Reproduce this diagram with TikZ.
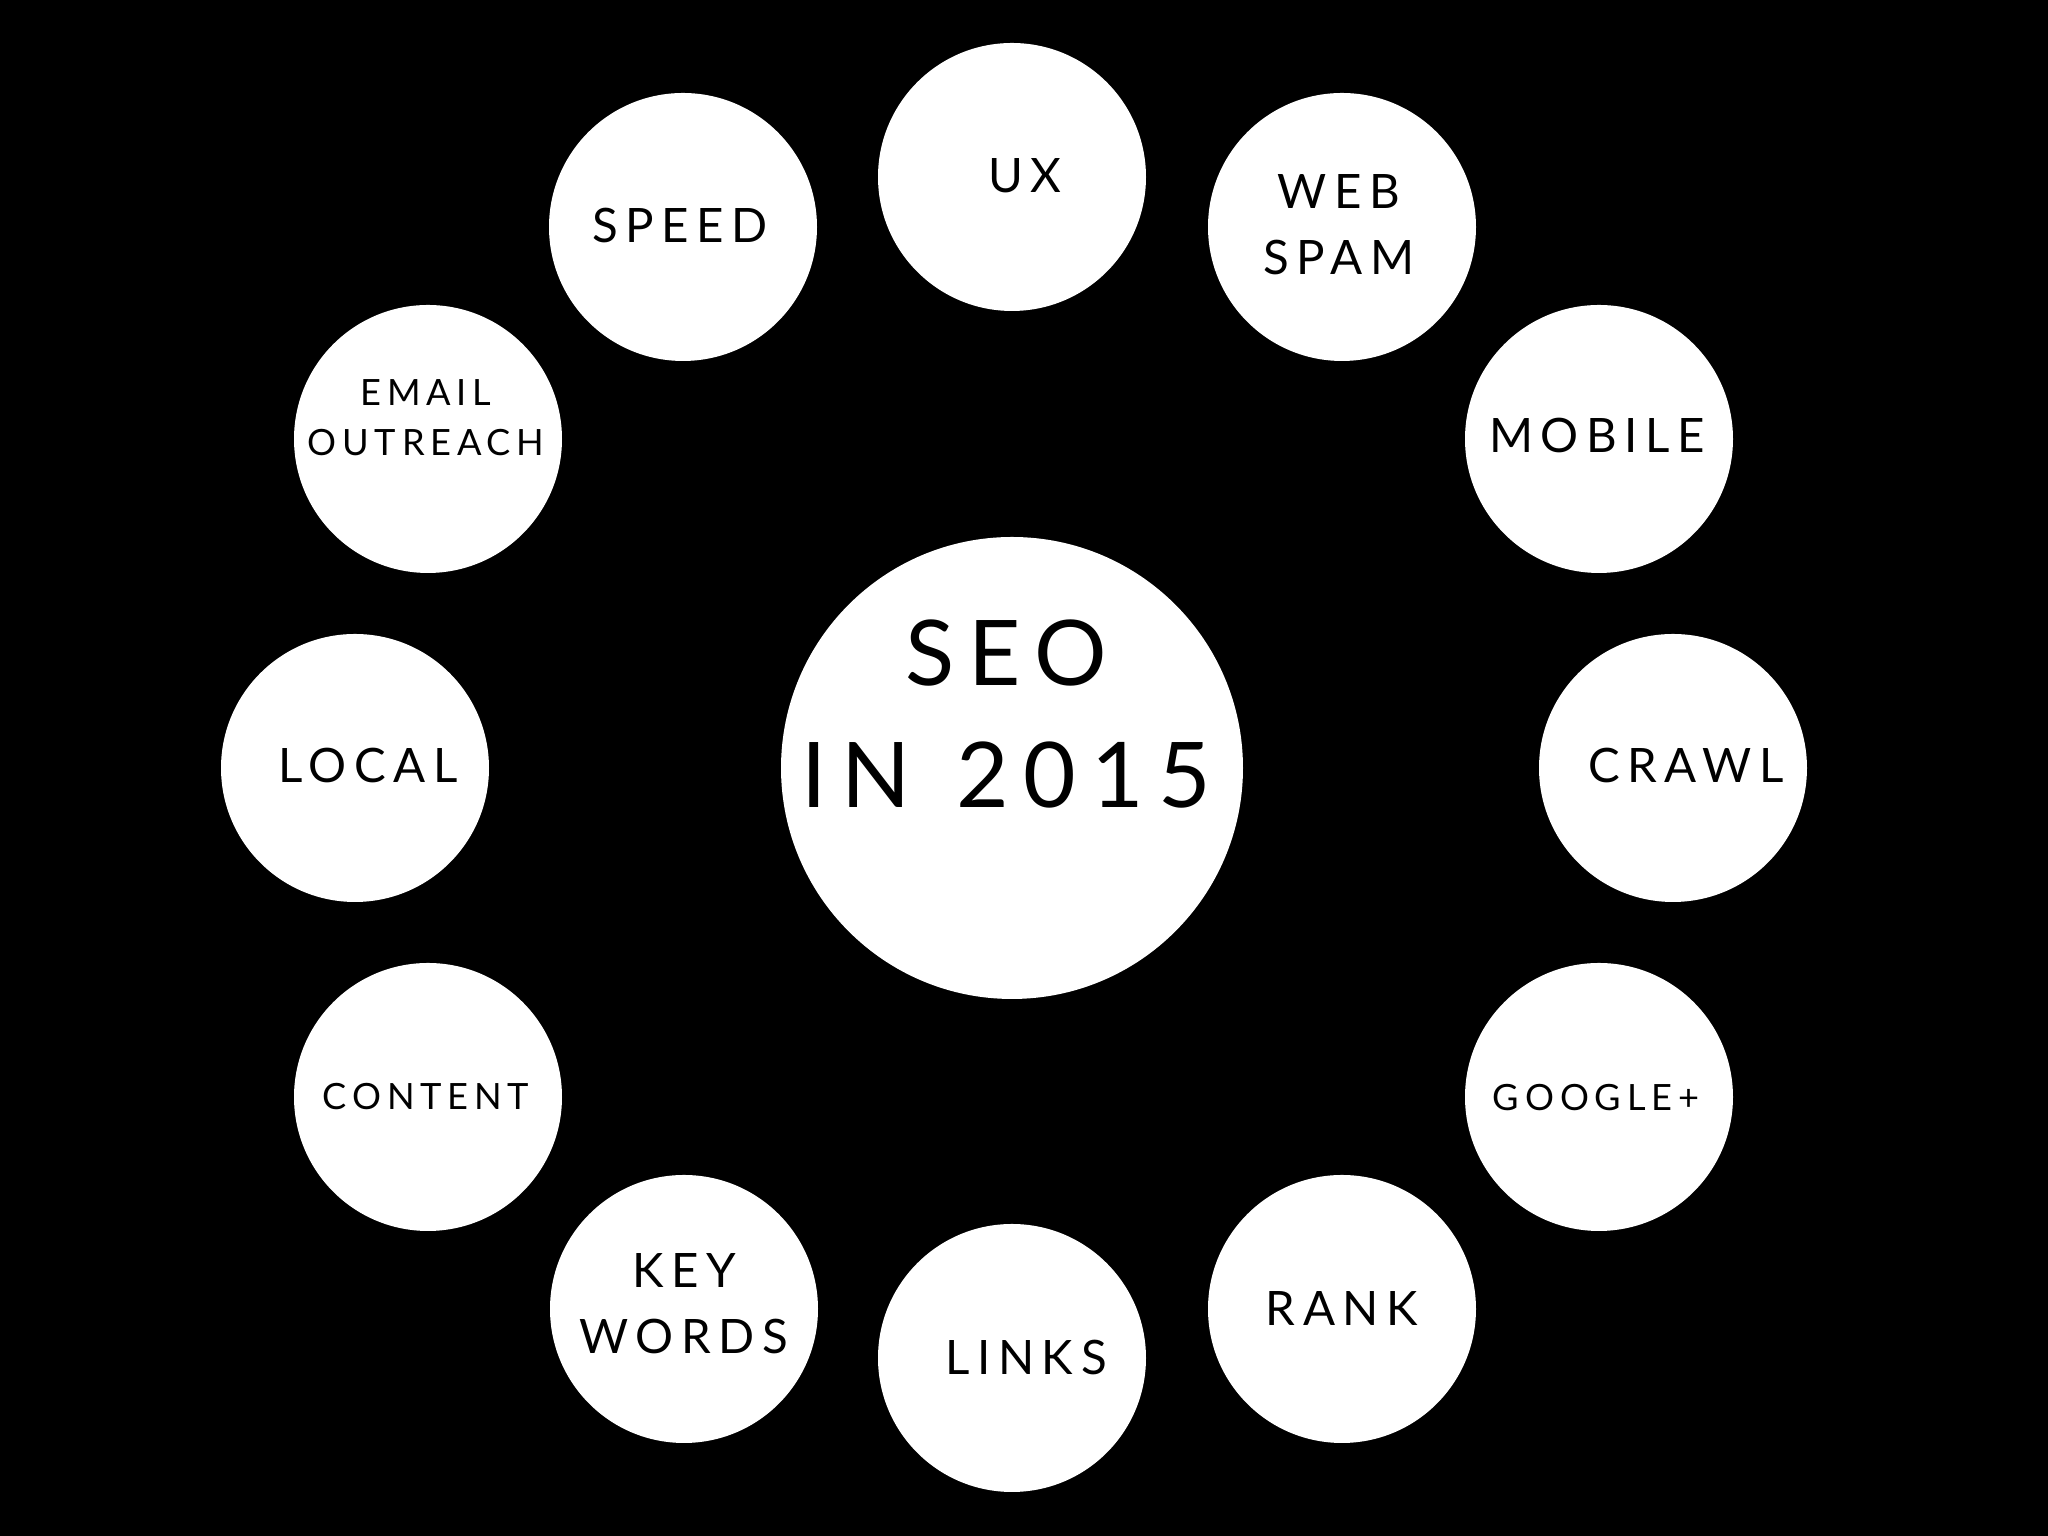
\documentclass[tikz,border=0pt]{standalone}
\usepackage{fontspec}
\usepackage{tikz}
\newfontfamily\widefont[LetterSpace=16]{Lato}

\begin{document}
\begin{tikzpicture}[
  bubble/.style={circle, fill=white, minimum size=2.68cm, inner sep=0pt},
  hub/.style={circle, fill=white, minimum size=4.62cm, inner sep=0pt},
  tag/.style={text=black, inner sep=0pt, align=center,
    font=\widefont\fontsize{13.5}{18.8}\selectfont},
  smalltag/.style={tag, font=\widefont\fontsize{10.3}{14.2}\selectfont},
  bigtag/.style={tag, font=\widefont\fontsize{25.8}{34.7}\selectfont}]
%background
\fill[black] (0,0) rectangle (20.48cm, 15.36cm);
\useasboundingbox (0,0) rectangle (20.48cm, 15.36cm);
%centre
\node[hub] (seo) at (10.12cm, 7.68cm) {};
\node[bigtag] (seotext) at (10.06cm, 8.22cm) {SEO\\IN\hspace{2.5pt} 2015};
%ring of topics
\foreach \name/\x/\y in {ux/10.12/13.59, webspam/13.42/13.09,
  mobile/15.99/10.97, crawl/16.73/7.68, google/15.99/4.39,
  rank/13.42/2.27, links/10.12/1.78, keywords/6.84/2.27,
  content/4.28/4.39, local/3.55/7.68, email/4.28/10.97,
  speed/6.83/13.09}
{
  \node[bubble] (\name) at (\x cm, \y cm) {};
}
%labels
\node[tag] (uxtext) at (10.25cm, 13.605cm) {UX};
\node[tag] (webspamtext) at (13.39cm, 13.11cm) {WEB\\SPAM};
\node[tag] (mobiletext) at (15.97cm, 11.00cm) {MOBILE};
\node[tag] (crawltext) at (16.86cm, 7.705cm) {CRAWL};
\node[smalltag] (googletext) at (15.96cm, 4.385cm) {GOOGLE+};
\node[tag] (ranktext) at (13.42cm, 2.275cm) {RANK};
\node[tag] (linkstext) at (10.26cm, 1.785cm) {LINKS};
\node[tag] (keywordstext) at (6.84cm, 2.32cm) {KEY\\WORDS};
\node[smalltag] (contenttext) at (4.26cm, 4.395cm) {CONTENT};
\node[tag] (localtext) at (3.68cm, 7.705cm) {LOCAL};
\node[smalltag] (emailtext) at (4.26cm, 11.18cm) {EMAIL\\OUTREACH};
\node[tag] (speedtext) at (6.80cm, 13.105cm) {SPEED};
\end{tikzpicture}
\end{document}
